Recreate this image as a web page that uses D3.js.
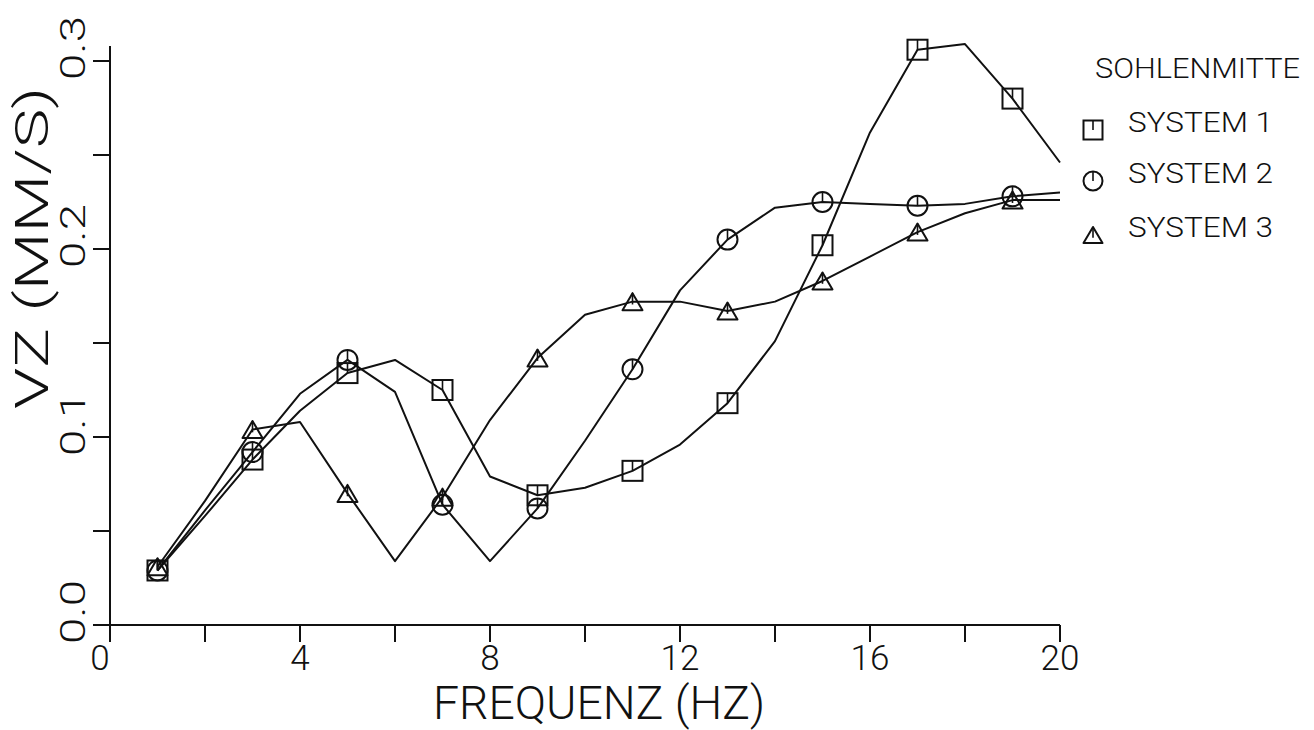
<!DOCTYPE html>
<html>
<head>
<meta charset="utf-8">
<script src="https://cdn.jsdelivr.net/npm/d3@7"></script>
<style>
body{margin:0;background:#fff;}
text{font-family:Roboto,"DejaVu Sans",sans-serif;font-weight:300;fill:#111;}
</style>
</head>
<body>
<svg id="chart" width="1314" height="730"></svg>
<script>
// frequencies where the plotter line has a vertex
var freq = [1,2,3,4,5,6,7,8,9,10,11,12,13,14,15,16,17,18,19,20];
// frequencies that carry a symbol
var markFreq = [1,3,5,7,9,11,13,15,17,19];

var sys1 = [0.029,0.058,0.088,0.114,0.134,0.141,0.125,0.079,0.069,0.073,0.082,0.096,0.118,0.151,0.202,0.262,0.306,0.309,0.280,0.246];
var sys2 = [0.029,0.061,0.092,0.123,0.141,0.124,0.064,0.034,0.062,0.098,0.136,0.178,0.205,0.222,0.225,0.224,0.223,0.224,0.228,0.230];
var sys3 = [0.031,0.066,0.104,0.108,0.070,0.034,0.068,0.109,0.142,0.165,0.172,0.172,0.167,0.172,0.183,0.196,0.209,0.219,0.226,0.226];

var seriesNames = ["SYSTEM 1","SYSTEM 2","SYSTEM 3"];
var symbols = ["square","circle","triangle"];

var xTicks = [0,2,4,6,8,10,12,14,16,18,20];
var xLabels = [0,4,8,12,16,20];
var yTicks = [0,0.05,0.1,0.15,0.2,0.25,0.3];
var yLabels = ["0.0","0.1","0.2","0.3"];

var svg = d3.select("#chart");
var ink = "#111";

var x = d3.scaleLinear().domain([0,20]).range([110,1060]);
var y = d3.scaleLinear().domain([0,0.3]).range([625,61]);

// axes
svg.append("line").attr("x1",x(0)).attr("x2",x(20)).attr("y1",y(0)).attr("y2",y(0))
	.attr("stroke",ink).attr("stroke-width",2);
svg.append("line").attr("x1",x(0)).attr("x2",x(0)).attr("y1",y(0)).attr("y2",46)
	.attr("stroke",ink).attr("stroke-width",2);

svg.selectAll(".xt").data(xTicks).enter().append("line").attr("class","xt")
	.attr("x1",d=>x(d)).attr("x2",d=>x(d)).attr("y1",y(0)).attr("y2",y(0)+17)
	.attr("stroke",ink).attr("stroke-width",2);
svg.selectAll(".yt").data(yTicks).enter().append("line").attr("class","yt")
	.attr("x1",x(0)-17).attr("x2",x(0)).attr("y1",d=>y(d)).attr("y2",d=>y(d))
	.attr("stroke",ink).attr("stroke-width",2);

svg.selectAll(".xl").data(xLabels).enter().append("text").attr("class","xl")
	.attr("x",d=>d==0 ? x(d)-10 : x(d)).attr("y",670).attr("text-anchor","middle")
	.attr("font-size",35).text(d=>d);

svg.selectAll(".yl").data(yLabels).enter().append("text").attr("class","yl")
	.attr("transform",d=>"translate(85,"+(y(+d)-13)+") rotate(-90)")
	.attr("text-anchor","middle").attr("font-size",35)
	.attr("textLength",64).attr("lengthAdjust","spacingAndGlyphs").text(d=>d);

svg.append("text").attr("x",599).attr("y",719).attr("text-anchor","middle")
	.attr("font-size",46).attr("textLength",332).attr("lengthAdjust","spacingAndGlyphs")
	.text("FREQUENZ (HZ)");

svg.append("text").attr("transform","translate(48,248) rotate(-90)")
	.attr("text-anchor","middle").attr("font-size",46)
	.attr("textLength",322).attr("lengthAdjust","spacingAndGlyphs")
	.text("VZ (MM/S)");

// curves
var allSeries = [sys1,sys2,sys3];
var line = d3.line().x((d,i)=>x(freq[i])).y(d=>y(d));
svg.selectAll(".curve").data(allSeries).enter().append("path").attr("class","curve")
	.attr("d",d=>line(d)).attr("fill","none").attr("stroke",ink)
	.attr("stroke-width",2).attr("stroke-linejoin","round");

function drawSymbol(g,kind,cx,cy,s){
	if(kind=="square"){
		g.append("rect").attr("x",cx-s/2).attr("y",cy-s/2).attr("width",s).attr("height",s)
			.attr("fill","none").attr("stroke",ink).attr("stroke-width",2);
		g.append("line").attr("x1",cx).attr("x2",cx).attr("y1",cy-s/2).attr("y2",cy)
			.attr("stroke",ink).attr("stroke-width",1.6);
	} else if(kind=="circle"){
		g.append("circle").attr("cx",cx).attr("cy",cy).attr("r",s/2)
			.attr("fill","none").attr("stroke",ink).attr("stroke-width",2);
		g.append("line").attr("x1",cx).attr("x2",cx).attr("y1",cy-s/2).attr("y2",cy)
			.attr("stroke",ink).attr("stroke-width",1.6);
	} else {
		var h = s*0.85;
		g.append("path")
			.attr("d","M"+(cx-s/2)+","+(cy+h/2)+"L"+cx+","+(cy-h/2)+"L"+(cx+s/2)+","+(cy+h/2)+"Z")
			.attr("fill","none").attr("stroke",ink).attr("stroke-width",2).attr("stroke-linejoin","round");
		g.append("line").attr("x1",cx).attr("x2",cx).attr("y1",cy-h/2).attr("y2",cy+h/6)
			.attr("stroke",ink).attr("stroke-width",1.6);
	}
}

var gm = svg.append("g");
allSeries.forEach(function(vals,k){
	markFreq.forEach(function(f){
		var v = vals[freq.indexOf(f)];
		drawSymbol(gm,symbols[k],x(f),y(v),20);
	});
});

// legend
svg.append("text").attr("x",1095).attr("y",78).attr("font-size",27)
	.attr("textLength",205).attr("lengthAdjust","spacingAndGlyphs").text("SOHLENMITTE");
var legY = [132,183,237];
seriesNames.forEach(function(n,k){
	drawSymbol(svg,symbols[k],1093,legY[k]-2,19);
	svg.append("text").attr("x",1128).attr("y",legY[k]).attr("font-size",27)
		.attr("textLength",145).attr("lengthAdjust","spacingAndGlyphs").text(n);
});
</script>
</body>
</html>
